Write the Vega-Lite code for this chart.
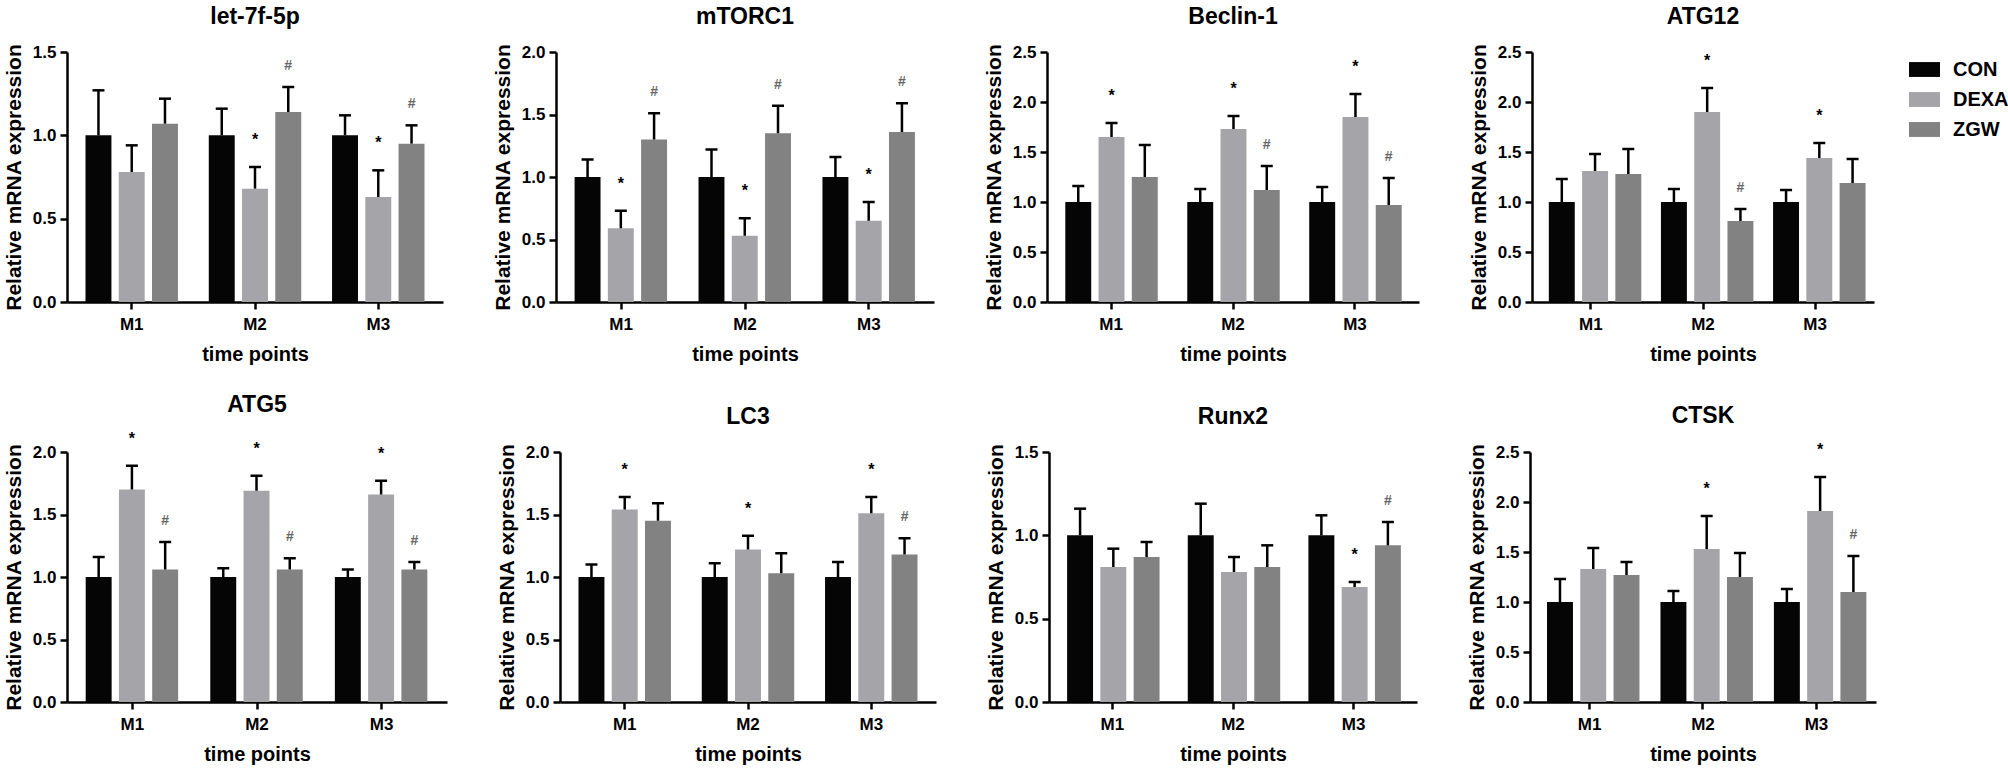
{
  "$schema": "https://vega.github.io/schema/vega-lite/v6.json",
  "background": "white",
  "padding": {"left": 3, "top": 6, "right": 2, "bottom": 2},
  "data": {"values": [
    {"gene":"let-7f-5p","time":"M1","group":"CON","value":1.00,"upper":1.27,"sig":""},
    {"gene":"let-7f-5p","time":"M1","group":"DEXA","value":0.78,"upper":0.94,"sig":""},
    {"gene":"let-7f-5p","time":"M1","group":"ZGW","value":1.07,"upper":1.22,"sig":""},
    {"gene":"let-7f-5p","time":"M2","group":"CON","value":1.00,"upper":1.16,"sig":""},
    {"gene":"let-7f-5p","time":"M2","group":"DEXA","value":0.68,"upper":0.81,"sig":"*"},
    {"gene":"let-7f-5p","time":"M2","group":"ZGW","value":1.14,"upper":1.29,"sig":"#"},
    {"gene":"let-7f-5p","time":"M3","group":"CON","value":1.00,"upper":1.12,"sig":""},
    {"gene":"let-7f-5p","time":"M3","group":"DEXA","value":0.63,"upper":0.79,"sig":"*"},
    {"gene":"let-7f-5p","time":"M3","group":"ZGW","value":0.95,"upper":1.06,"sig":"#"},
    {"gene":"mTORC1","time":"M1","group":"CON","value":1.00,"upper":1.14,"sig":""},
    {"gene":"mTORC1","time":"M1","group":"DEXA","value":0.59,"upper":0.73,"sig":"*"},
    {"gene":"mTORC1","time":"M1","group":"ZGW","value":1.30,"upper":1.51,"sig":"#"},
    {"gene":"mTORC1","time":"M2","group":"CON","value":1.00,"upper":1.22,"sig":""},
    {"gene":"mTORC1","time":"M2","group":"DEXA","value":0.53,"upper":0.67,"sig":"*"},
    {"gene":"mTORC1","time":"M2","group":"ZGW","value":1.35,"upper":1.57,"sig":"#"},
    {"gene":"mTORC1","time":"M3","group":"CON","value":1.00,"upper":1.16,"sig":""},
    {"gene":"mTORC1","time":"M3","group":"DEXA","value":0.65,"upper":0.80,"sig":"*"},
    {"gene":"mTORC1","time":"M3","group":"ZGW","value":1.36,"upper":1.59,"sig":"#"},
    {"gene":"Beclin-1","time":"M1","group":"CON","value":1.00,"upper":1.16,"sig":""},
    {"gene":"Beclin-1","time":"M1","group":"DEXA","value":1.65,"upper":1.79,"sig":"*"},
    {"gene":"Beclin-1","time":"M1","group":"ZGW","value":1.25,"upper":1.57,"sig":""},
    {"gene":"Beclin-1","time":"M2","group":"CON","value":1.00,"upper":1.13,"sig":""},
    {"gene":"Beclin-1","time":"M2","group":"DEXA","value":1.73,"upper":1.86,"sig":"*"},
    {"gene":"Beclin-1","time":"M2","group":"ZGW","value":1.12,"upper":1.36,"sig":"#"},
    {"gene":"Beclin-1","time":"M3","group":"CON","value":1.00,"upper":1.15,"sig":""},
    {"gene":"Beclin-1","time":"M3","group":"DEXA","value":1.85,"upper":2.08,"sig":"*"},
    {"gene":"Beclin-1","time":"M3","group":"ZGW","value":0.97,"upper":1.24,"sig":"#"},
    {"gene":"ATG12","time":"M1","group":"CON","value":1.00,"upper":1.23,"sig":""},
    {"gene":"ATG12","time":"M1","group":"DEXA","value":1.31,"upper":1.48,"sig":""},
    {"gene":"ATG12","time":"M1","group":"ZGW","value":1.28,"upper":1.53,"sig":""},
    {"gene":"ATG12","time":"M2","group":"CON","value":1.00,"upper":1.13,"sig":""},
    {"gene":"ATG12","time":"M2","group":"DEXA","value":1.90,"upper":2.14,"sig":"*"},
    {"gene":"ATG12","time":"M2","group":"ZGW","value":0.81,"upper":0.93,"sig":"#"},
    {"gene":"ATG12","time":"M3","group":"CON","value":1.00,"upper":1.12,"sig":""},
    {"gene":"ATG12","time":"M3","group":"DEXA","value":1.44,"upper":1.59,"sig":"*"},
    {"gene":"ATG12","time":"M3","group":"ZGW","value":1.19,"upper":1.43,"sig":""},
    {"gene":"ATG5","time":"M1","group":"CON","value":1.00,"upper":1.16,"sig":""},
    {"gene":"ATG5","time":"M1","group":"DEXA","value":1.70,"upper":1.89,"sig":"*"},
    {"gene":"ATG5","time":"M1","group":"ZGW","value":1.06,"upper":1.28,"sig":"#"},
    {"gene":"ATG5","time":"M2","group":"CON","value":1.00,"upper":1.07,"sig":""},
    {"gene":"ATG5","time":"M2","group":"DEXA","value":1.69,"upper":1.81,"sig":"*"},
    {"gene":"ATG5","time":"M2","group":"ZGW","value":1.06,"upper":1.15,"sig":"#"},
    {"gene":"ATG5","time":"M3","group":"CON","value":1.00,"upper":1.06,"sig":""},
    {"gene":"ATG5","time":"M3","group":"DEXA","value":1.66,"upper":1.77,"sig":"*"},
    {"gene":"ATG5","time":"M3","group":"ZGW","value":1.06,"upper":1.12,"sig":"#"},
    {"gene":"LC3","time":"M1","group":"CON","value":1.00,"upper":1.10,"sig":""},
    {"gene":"LC3","time":"M1","group":"DEXA","value":1.54,"upper":1.64,"sig":"*"},
    {"gene":"LC3","time":"M1","group":"ZGW","value":1.45,"upper":1.59,"sig":""},
    {"gene":"LC3","time":"M2","group":"CON","value":1.00,"upper":1.11,"sig":""},
    {"gene":"LC3","time":"M2","group":"DEXA","value":1.22,"upper":1.33,"sig":"*"},
    {"gene":"LC3","time":"M2","group":"ZGW","value":1.03,"upper":1.19,"sig":""},
    {"gene":"LC3","time":"M3","group":"CON","value":1.00,"upper":1.12,"sig":""},
    {"gene":"LC3","time":"M3","group":"DEXA","value":1.51,"upper":1.64,"sig":"*"},
    {"gene":"LC3","time":"M3","group":"ZGW","value":1.18,"upper":1.31,"sig":"#"},
    {"gene":"Runx2","time":"M1","group":"CON","value":1.00,"upper":1.16,"sig":""},
    {"gene":"Runx2","time":"M1","group":"DEXA","value":0.81,"upper":0.92,"sig":""},
    {"gene":"Runx2","time":"M1","group":"ZGW","value":0.87,"upper":0.96,"sig":""},
    {"gene":"Runx2","time":"M2","group":"CON","value":1.00,"upper":1.19,"sig":""},
    {"gene":"Runx2","time":"M2","group":"DEXA","value":0.78,"upper":0.87,"sig":""},
    {"gene":"Runx2","time":"M2","group":"ZGW","value":0.81,"upper":0.94,"sig":""},
    {"gene":"Runx2","time":"M3","group":"CON","value":1.00,"upper":1.12,"sig":""},
    {"gene":"Runx2","time":"M3","group":"DEXA","value":0.69,"upper":0.72,"sig":"*"},
    {"gene":"Runx2","time":"M3","group":"ZGW","value":0.94,"upper":1.08,"sig":"#"},
    {"gene":"CTSK","time":"M1","group":"CON","value":1.00,"upper":1.23,"sig":""},
    {"gene":"CTSK","time":"M1","group":"DEXA","value":1.33,"upper":1.54,"sig":""},
    {"gene":"CTSK","time":"M1","group":"ZGW","value":1.27,"upper":1.40,"sig":""},
    {"gene":"CTSK","time":"M2","group":"CON","value":1.00,"upper":1.11,"sig":""},
    {"gene":"CTSK","time":"M2","group":"DEXA","value":1.53,"upper":1.86,"sig":"*"},
    {"gene":"CTSK","time":"M2","group":"ZGW","value":1.25,"upper":1.49,"sig":""},
    {"gene":"CTSK","time":"M3","group":"CON","value":1.00,"upper":1.13,"sig":""},
    {"gene":"CTSK","time":"M3","group":"DEXA","value":1.91,"upper":2.25,"sig":"*"},
    {"gene":"CTSK","time":"M3","group":"ZGW","value":1.10,"upper":1.46,"sig":"#"}
  ]},
  "config": {
    "view": {"stroke": null},
    "font": "Liberation Sans",
    "axis": {"domainColor": "black", "domainWidth": 2.5, "tickColor": "black", "tickWidth": 2.5, "tickSize": 7, "labelFont": "Liberation Sans", "labelFontSize": 17, "labelFontWeight": "bold", "labelColor": "black", "titleFont": "Liberation Sans", "titleFontSize": 20, "titleFontWeight": "bold", "titleColor": "black", "grid": false},
    "axisX": {"labelPadding": 7, "titlePadding": 12, "labelAngle": 0},
    "axisY": {"labelPadding": 4, "titlePadding": 8, "titleFontSize": 21},
    "title": {"font": "Liberation Sans", "fontSize": 23, "fontWeight": "bold", "color": "black", "offset": 14},
    "legend": {"orient": "none", "legendX": 1842, "legendY": 2, "symbolType": "M-1,-0.48H1V0.48H-1Z", "symbolSize": 961, "symbolStrokeWidth": 0, "symbolOpacity": 1, "labelFont": "Liberation Sans", "labelFontSize": 20, "labelFontWeight": "bold", "labelColor": "black", "labelOffset": 13, "rowPadding": 4, "padding": 0}
  },
  "spacing": 29,
  "vconcat": [
    {"spacing": 49, "hconcat": [
      {"width": 376, "height": 250, "title": "let-7f-5p",
       "transform": [{"filter": "datum.gene === 'let-7f-5p'"}],
       "encoding": {
         "x": {"field": "time", "type": "nominal", "title": "time points", "scale": {"paddingInner": 0.25, "paddingOuter": 0.15}},
         "xOffset": {"field": "group", "type": "nominal", "scale": {"paddingInner": 0.22}}
       },
       "layer": [
         {"mark": {"type": "bar"}, "encoding": {"y": {"field": "value", "type": "quantitative", "title": "Relative mRNA expression", "scale": {"domain": [0, 1.5]}, "axis": {"values": [0, 0.5, 1, 1.5], "format": ".1f"}}, "color": {"field": "group", "type": "nominal", "scale": {"domain": ["CON", "DEXA", "ZGW"], "range": ["#050505", "#a5a5a9", "#828282"]}, "legend": {"title": null}}}},
         {"mark": {"type": "rule", "color": "black", "strokeWidth": 2.5}, "encoding": {"y": {"field": "value", "type": "quantitative", "title": "Relative mRNA expression", "scale": {"domain": [0, 1.5]}}, "y2": {"field": "upper"}}},
         {"mark": {"type": "tick", "color": "black", "thickness": 2.5, "size": 12, "opacity": 1}, "encoding": {"y": {"field": "upper", "type": "quantitative", "title": "Relative mRNA expression", "scale": {"domain": [0, 1.5]}}}},
         {"transform": [{"filter": "datum.sig === '*'"}], "mark": {"type": "text", "dy": -27, "fontSize": 16, "fontWeight": "bold", "color": "black"}, "encoding": {"y": {"field": "upper", "type": "quantitative", "title": "Relative mRNA expression", "scale": {"domain": [0, 1.5]}}, "text": {"field": "sig"}}},
         {"transform": [{"filter": "datum.sig === '#'"}], "mark": {"type": "text", "dy": -21, "fontSize": 14, "fontWeight": "bold", "color": "#666666"}, "encoding": {"y": {"field": "upper", "type": "quantitative", "title": "Relative mRNA expression", "scale": {"domain": [0, 1.5]}}, "text": {"field": "sig"}}}
       ]},
      {"width": 378, "height": 250, "title": "mTORC1",
       "transform": [{"filter": "datum.gene === 'mTORC1'"}],
       "encoding": {
         "x": {"field": "time", "type": "nominal", "title": "time points", "scale": {"paddingInner": 0.25, "paddingOuter": 0.15}},
         "xOffset": {"field": "group", "type": "nominal", "scale": {"paddingInner": 0.22}}
       },
       "layer": [
         {"mark": {"type": "bar"}, "encoding": {"y": {"field": "value", "type": "quantitative", "title": "Relative mRNA expression", "scale": {"domain": [0, 2]}, "axis": {"values": [0, 0.5, 1, 1.5, 2], "format": ".1f"}}, "color": {"field": "group", "type": "nominal", "scale": {"domain": ["CON", "DEXA", "ZGW"], "range": ["#050505", "#a5a5a9", "#828282"]}, "legend": {"title": null}}}},
         {"mark": {"type": "rule", "color": "black", "strokeWidth": 2.5}, "encoding": {"y": {"field": "value", "type": "quantitative", "title": "Relative mRNA expression", "scale": {"domain": [0, 2]}}, "y2": {"field": "upper"}}},
         {"mark": {"type": "tick", "color": "black", "thickness": 2.5, "size": 12, "opacity": 1}, "encoding": {"y": {"field": "upper", "type": "quantitative", "title": "Relative mRNA expression", "scale": {"domain": [0, 2]}}}},
         {"transform": [{"filter": "datum.sig === '*'"}], "mark": {"type": "text", "dy": -27, "fontSize": 16, "fontWeight": "bold", "color": "black"}, "encoding": {"y": {"field": "upper", "type": "quantitative", "title": "Relative mRNA expression", "scale": {"domain": [0, 2]}}, "text": {"field": "sig"}}},
         {"transform": [{"filter": "datum.sig === '#'"}], "mark": {"type": "text", "dy": -21, "fontSize": 14, "fontWeight": "bold", "color": "#666666"}, "encoding": {"y": {"field": "upper", "type": "quantitative", "title": "Relative mRNA expression", "scale": {"domain": [0, 2]}}, "text": {"field": "sig"}}}
       ]},
      {"width": 372, "height": 250, "title": "Beclin-1",
       "transform": [{"filter": "datum.gene === 'Beclin-1'"}],
       "encoding": {
         "x": {"field": "time", "type": "nominal", "title": "time points", "scale": {"paddingInner": 0.25, "paddingOuter": 0.15}},
         "xOffset": {"field": "group", "type": "nominal", "scale": {"paddingInner": 0.22}}
       },
       "layer": [
         {"mark": {"type": "bar"}, "encoding": {"y": {"field": "value", "type": "quantitative", "title": "Relative mRNA expression", "scale": {"domain": [0, 2.5]}, "axis": {"values": [0, 0.5, 1, 1.5, 2, 2.5], "format": ".1f"}}, "color": {"field": "group", "type": "nominal", "scale": {"domain": ["CON", "DEXA", "ZGW"], "range": ["#050505", "#a5a5a9", "#828282"]}, "legend": {"title": null}}}},
         {"mark": {"type": "rule", "color": "black", "strokeWidth": 2.5}, "encoding": {"y": {"field": "value", "type": "quantitative", "title": "Relative mRNA expression", "scale": {"domain": [0, 2.5]}}, "y2": {"field": "upper"}}},
         {"mark": {"type": "tick", "color": "black", "thickness": 2.5, "size": 12, "opacity": 1}, "encoding": {"y": {"field": "upper", "type": "quantitative", "title": "Relative mRNA expression", "scale": {"domain": [0, 2.5]}}}},
         {"transform": [{"filter": "datum.sig === '*'"}], "mark": {"type": "text", "dy": -27, "fontSize": 16, "fontWeight": "bold", "color": "black"}, "encoding": {"y": {"field": "upper", "type": "quantitative", "title": "Relative mRNA expression", "scale": {"domain": [0, 2.5]}}, "text": {"field": "sig"}}},
         {"transform": [{"filter": "datum.sig === '#'"}], "mark": {"type": "text", "dy": -21, "fontSize": 14, "fontWeight": "bold", "color": "#666666"}, "encoding": {"y": {"field": "upper", "type": "quantitative", "title": "Relative mRNA expression", "scale": {"domain": [0, 2.5]}}, "text": {"field": "sig"}}}
       ]},
      {"width": 342, "height": 250, "title": "ATG12",
       "transform": [{"filter": "datum.gene === 'ATG12'"}],
       "encoding": {
         "x": {"field": "time", "type": "nominal", "title": "time points", "scale": {"paddingInner": 0.25, "paddingOuter": 0.15}},
         "xOffset": {"field": "group", "type": "nominal", "scale": {"paddingInner": 0.22}}
       },
       "layer": [
         {"mark": {"type": "bar"}, "encoding": {"y": {"field": "value", "type": "quantitative", "title": "Relative mRNA expression", "scale": {"domain": [0, 2.5]}, "axis": {"values": [0, 0.5, 1, 1.5, 2, 2.5], "format": ".1f"}}, "color": {"field": "group", "type": "nominal", "scale": {"domain": ["CON", "DEXA", "ZGW"], "range": ["#050505", "#a5a5a9", "#828282"]}, "legend": {"title": null}}}},
         {"mark": {"type": "rule", "color": "black", "strokeWidth": 2.5}, "encoding": {"y": {"field": "value", "type": "quantitative", "title": "Relative mRNA expression", "scale": {"domain": [0, 2.5]}}, "y2": {"field": "upper"}}},
         {"mark": {"type": "tick", "color": "black", "thickness": 2.5, "size": 12, "opacity": 1}, "encoding": {"y": {"field": "upper", "type": "quantitative", "title": "Relative mRNA expression", "scale": {"domain": [0, 2.5]}}}},
         {"transform": [{"filter": "datum.sig === '*'"}], "mark": {"type": "text", "dy": -27, "fontSize": 16, "fontWeight": "bold", "color": "black"}, "encoding": {"y": {"field": "upper", "type": "quantitative", "title": "Relative mRNA expression", "scale": {"domain": [0, 2.5]}}, "text": {"field": "sig"}}},
         {"transform": [{"filter": "datum.sig === '#'"}], "mark": {"type": "text", "dy": -21, "fontSize": 14, "fontWeight": "bold", "color": "#666666"}, "encoding": {"y": {"field": "upper", "type": "quantitative", "title": "Relative mRNA expression", "scale": {"domain": [0, 2.5]}}, "text": {"field": "sig"}}}
       ]}
    ]},
    {"spacing": 49, "hconcat": [
      {"width": 380, "height": 250, "title": "ATG5",
       "transform": [{"filter": "datum.gene === 'ATG5'"}],
       "encoding": {
         "x": {"field": "time", "type": "nominal", "title": "time points", "scale": {"paddingInner": 0.25, "paddingOuter": 0.15}},
         "xOffset": {"field": "group", "type": "nominal", "scale": {"paddingInner": 0.22}}
       },
       "layer": [
         {"mark": {"type": "bar"}, "encoding": {"y": {"field": "value", "type": "quantitative", "title": "Relative mRNA expression", "scale": {"domain": [0, 2]}, "axis": {"values": [0, 0.5, 1, 1.5, 2], "format": ".1f"}}, "color": {"field": "group", "type": "nominal", "scale": {"domain": ["CON", "DEXA", "ZGW"], "range": ["#050505", "#a5a5a9", "#828282"]}, "legend": {"title": null}}}},
         {"mark": {"type": "rule", "color": "black", "strokeWidth": 2.5}, "encoding": {"y": {"field": "value", "type": "quantitative", "title": "Relative mRNA expression", "scale": {"domain": [0, 2]}}, "y2": {"field": "upper"}}},
         {"mark": {"type": "tick", "color": "black", "thickness": 2.5, "size": 12, "opacity": 1}, "encoding": {"y": {"field": "upper", "type": "quantitative", "title": "Relative mRNA expression", "scale": {"domain": [0, 2]}}}},
         {"transform": [{"filter": "datum.sig === '*'"}], "mark": {"type": "text", "dy": -27, "fontSize": 16, "fontWeight": "bold", "color": "black"}, "encoding": {"y": {"field": "upper", "type": "quantitative", "title": "Relative mRNA expression", "scale": {"domain": [0, 2]}}, "text": {"field": "sig"}}},
         {"transform": [{"filter": "datum.sig === '#'"}], "mark": {"type": "text", "dy": -21, "fontSize": 14, "fontWeight": "bold", "color": "#666666"}, "encoding": {"y": {"field": "upper", "type": "quantitative", "title": "Relative mRNA expression", "scale": {"domain": [0, 2]}}, "text": {"field": "sig"}}}
       ]},
      {"width": 376, "height": 250, "title": "LC3",
       "transform": [{"filter": "datum.gene === 'LC3'"}],
       "encoding": {
         "x": {"field": "time", "type": "nominal", "title": "time points", "scale": {"paddingInner": 0.25, "paddingOuter": 0.15}},
         "xOffset": {"field": "group", "type": "nominal", "scale": {"paddingInner": 0.22}}
       },
       "layer": [
         {"mark": {"type": "bar"}, "encoding": {"y": {"field": "value", "type": "quantitative", "title": "Relative mRNA expression", "scale": {"domain": [0, 2]}, "axis": {"values": [0, 0.5, 1, 1.5, 2], "format": ".1f"}}, "color": {"field": "group", "type": "nominal", "scale": {"domain": ["CON", "DEXA", "ZGW"], "range": ["#050505", "#a5a5a9", "#828282"]}, "legend": {"title": null}}}},
         {"mark": {"type": "rule", "color": "black", "strokeWidth": 2.5}, "encoding": {"y": {"field": "value", "type": "quantitative", "title": "Relative mRNA expression", "scale": {"domain": [0, 2]}}, "y2": {"field": "upper"}}},
         {"mark": {"type": "tick", "color": "black", "thickness": 2.5, "size": 12, "opacity": 1}, "encoding": {"y": {"field": "upper", "type": "quantitative", "title": "Relative mRNA expression", "scale": {"domain": [0, 2]}}}},
         {"transform": [{"filter": "datum.sig === '*'"}], "mark": {"type": "text", "dy": -27, "fontSize": 16, "fontWeight": "bold", "color": "black"}, "encoding": {"y": {"field": "upper", "type": "quantitative", "title": "Relative mRNA expression", "scale": {"domain": [0, 2]}}, "text": {"field": "sig"}}},
         {"transform": [{"filter": "datum.sig === '#'"}], "mark": {"type": "text", "dy": -21, "fontSize": 14, "fontWeight": "bold", "color": "#666666"}, "encoding": {"y": {"field": "upper", "type": "quantitative", "title": "Relative mRNA expression", "scale": {"domain": [0, 2]}}, "text": {"field": "sig"}}}
       ]},
      {"width": 368, "height": 250, "title": "Runx2",
       "transform": [{"filter": "datum.gene === 'Runx2'"}],
       "encoding": {
         "x": {"field": "time", "type": "nominal", "title": "time points", "scale": {"paddingInner": 0.25, "paddingOuter": 0.15}},
         "xOffset": {"field": "group", "type": "nominal", "scale": {"paddingInner": 0.22}}
       },
       "layer": [
         {"mark": {"type": "bar"}, "encoding": {"y": {"field": "value", "type": "quantitative", "title": "Relative mRNA expression", "scale": {"domain": [0, 1.5]}, "axis": {"values": [0, 0.5, 1, 1.5], "format": ".1f"}}, "color": {"field": "group", "type": "nominal", "scale": {"domain": ["CON", "DEXA", "ZGW"], "range": ["#050505", "#a5a5a9", "#828282"]}, "legend": {"title": null}}}},
         {"mark": {"type": "rule", "color": "black", "strokeWidth": 2.5}, "encoding": {"y": {"field": "value", "type": "quantitative", "title": "Relative mRNA expression", "scale": {"domain": [0, 1.5]}}, "y2": {"field": "upper"}}},
         {"mark": {"type": "tick", "color": "black", "thickness": 2.5, "size": 12, "opacity": 1}, "encoding": {"y": {"field": "upper", "type": "quantitative", "title": "Relative mRNA expression", "scale": {"domain": [0, 1.5]}}}},
         {"transform": [{"filter": "datum.sig === '*'"}], "mark": {"type": "text", "dy": -27, "fontSize": 16, "fontWeight": "bold", "color": "black"}, "encoding": {"y": {"field": "upper", "type": "quantitative", "title": "Relative mRNA expression", "scale": {"domain": [0, 1.5]}}, "text": {"field": "sig"}}},
         {"transform": [{"filter": "datum.sig === '#'"}], "mark": {"type": "text", "dy": -21, "fontSize": 14, "fontWeight": "bold", "color": "#666666"}, "encoding": {"y": {"field": "upper", "type": "quantitative", "title": "Relative mRNA expression", "scale": {"domain": [0, 1.5]}}, "text": {"field": "sig"}}}
       ]},
      {"width": 346, "height": 250, "title": "CTSK",
       "transform": [{"filter": "datum.gene === 'CTSK'"}],
       "encoding": {
         "x": {"field": "time", "type": "nominal", "title": "time points", "scale": {"paddingInner": 0.25, "paddingOuter": 0.15}},
         "xOffset": {"field": "group", "type": "nominal", "scale": {"paddingInner": 0.22}}
       },
       "layer": [
         {"mark": {"type": "bar"}, "encoding": {"y": {"field": "value", "type": "quantitative", "title": "Relative mRNA expression", "scale": {"domain": [0, 2.5]}, "axis": {"values": [0, 0.5, 1, 1.5, 2, 2.5], "format": ".1f"}}, "color": {"field": "group", "type": "nominal", "scale": {"domain": ["CON", "DEXA", "ZGW"], "range": ["#050505", "#a5a5a9", "#828282"]}, "legend": {"title": null}}}},
         {"mark": {"type": "rule", "color": "black", "strokeWidth": 2.5}, "encoding": {"y": {"field": "value", "type": "quantitative", "title": "Relative mRNA expression", "scale": {"domain": [0, 2.5]}}, "y2": {"field": "upper"}}},
         {"mark": {"type": "tick", "color": "black", "thickness": 2.5, "size": 12, "opacity": 1}, "encoding": {"y": {"field": "upper", "type": "quantitative", "title": "Relative mRNA expression", "scale": {"domain": [0, 2.5]}}}},
         {"transform": [{"filter": "datum.sig === '*'"}], "mark": {"type": "text", "dy": -27, "fontSize": 16, "fontWeight": "bold", "color": "black"}, "encoding": {"y": {"field": "upper", "type": "quantitative", "title": "Relative mRNA expression", "scale": {"domain": [0, 2.5]}}, "text": {"field": "sig"}}},
         {"transform": [{"filter": "datum.sig === '#'"}], "mark": {"type": "text", "dy": -21, "fontSize": 14, "fontWeight": "bold", "color": "#666666"}, "encoding": {"y": {"field": "upper", "type": "quantitative", "title": "Relative mRNA expression", "scale": {"domain": [0, 2.5]}}, "text": {"field": "sig"}}}
       ]}
    ]}
  ]
}
